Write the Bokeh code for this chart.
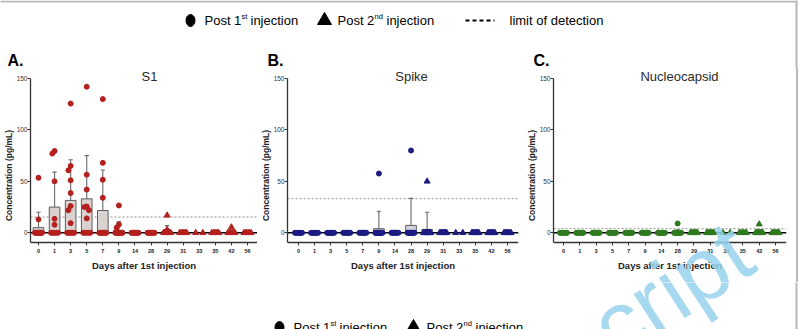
from bokeh.plotting import figure
from bokeh.models import Range1d, FixedTicker, Label, Spacer
from bokeh.layouts import column, row
from bokeh.embed import file_html
from bokeh.resources import INLINE
from bokeh.core.properties import value

# ---------------- data ----------------
DAYS = ["0", "1", "3", "5", "7", "9", "14", "28", "29", "31", "33", "35", "42", "56"]
FIRST_POST2_DAY = "29"   # from this day on: post 2nd injection (triangles)

S1_MEAN = [5, 25, 31.5, 33, 21.7, 2.3, 0, 0, 1.5, 0, 0, 0, 0.5, 0]
S1_SD_TOP = [20, 59, 71, 75, 61, 11, 0, 0, 7, 0, 0, 0, 2, 0]
S1_LOD = 15.3
S1_VALUES = [
    [53.5, 13, 0, 0, 0, 0, 0, 0, 0, 0, 0, 0],
    [79.5, 77, 50, 13.6, 7.8, 0, 0, 0, 0, 0],
    [125.6, 65, 60.7, 51, 38.6, 26, 22, 9.4, 0, 0, 0, 0, 0, 0],
    [142, 56.5, 42, 25.6, 25, 22, 14, 0, 0, 0, 0, 0],
    [130, 68, 51.6, 34, 0, 0, 0, 0, 0, 0, 0, 0],
    [26.6, 8, 5, 0, 0, 0, 0, 0, 0, 0, 0, 0],
    [0, 0, 0, 0, 0, 0, 0, 0],
    [0, 0, 0, 0, 0, 0, 0, 0],
    [17, 3, 0, 0, 0, 0, 0, 0, 0, 0],
    [0, 0, 0, 0, 0, 0],
    [0, 0],
    [0, 0, 0, 0, 0, 0],
    [5.5, 0, 0, 0, 0, 0, 0],
    [0, 0, 0, 0, 0, 0],
]

SPIKE_MEAN = [0, 0, 0, 0, 0, 4, 0, 7.2, 3.3, 0, 0, 0, 0, 0]
SPIKE_SD_TOP = [0, 0, 0, 0, 0, 21, 0, 33.5, 20, 0, 0, 0, 0, 0]
SPIKE_LOD = 33.2
SPIKE_VALUES = [
    [0, 0, 0, 0, 0, 0, 0, 0],
    [0, 0, 0, 0, 0, 0, 0, 0],
    [0, 0, 0, 0, 0, 0, 0, 0],
    [0, 0, 0, 0, 0, 0, 0, 0],
    [0, 0, 0, 0, 0, 0, 0, 0],
    [57.6, 0, 0, 0, 0, 0, 0, 0, 0, 0, 0, 0, 0, 0],
    [0, 0, 0, 0, 0, 0, 0, 0],
    [80, 0, 0, 0, 0, 0, 0, 0, 0, 0, 0],
    [50, 0, 0, 0, 0, 0, 0, 0, 0, 0, 0, 0, 0, 0, 0],
    [0, 0, 0, 0, 0, 0, 0, 0],
    [0, 0],
    [0, 0, 0, 0, 0, 0, 0, 0],
    [0, 0, 0, 0, 0, 0, 0, 0],
    [0, 0, 0, 0, 0, 0, 0, 0],
]

NC_MEAN = [0, 0, 0, 0, 0, 0, 0, 0.8, 0, 0, 0, 0, 0.7, 0]
NC_SD_TOP = [0, 0, 0, 0, 0, 0, 0, 3, 0, 0, 0, 0, 2.5, 0]
NC_LOD = 4
NC_VALUES = [
    [0, 0, 0, 0, 0, 0, 0, 0],
    [0, 0, 0, 0, 0, 0, 0, 0],
    [0, 0, 0, 0, 0, 0, 0, 0],
    [0, 0, 0, 0, 0, 0, 0, 0],
    [0, 0, 0, 0, 0, 0, 0, 0],
    [0, 0, 0, 0, 0, 0, 0, 0],
    [0, 0, 0, 0, 0, 0, 0, 0],
    [9.1, 0, 0, 0, 0, 0, 0, 0, 0, 0, 0],
    [0, 0, 0, 0, 0, 0, 0, 0],
    [0, 0, 0, 0, 0, 0, 0, 0],
    [0, 0],
    [0, 0, 0, 0, 0, 0],
    [8.4, 0, 0, 0, 0, 0, 0, 0, 0, 0, 0],
    [0, 0, 0, 0, 0, 0, 0, 0],
]

Y_TICKS = [0, 50, 100, 150]
FONT = "Liberation Sans"

# ---------------- geometry helpers ----------------
TOP_H = 68          # legend strip (with panel letters)
PANEL_H = 214
BOT_H = 47
ZERO_PY = 232.3     # page y of value 0
PX_PER_UNIT = 1.0287
AXIS_PY = 242       # page y of the x axis line
Y_AXIS_AT = -(AXIS_PY - ZERO_PY) / PX_PER_UNIT
Y0 = -(TOP_H + PANEL_H - ZERO_PY) / PX_PER_UNIT
Y1 = (ZERO_PY - TOP_H) / PX_PER_UNIT


def swarm(vals, step=0.14, marker_px=5.0):
    offs = [0.0] * len(vals)
    zeros = [i for i, v in enumerate(vals) if v == 0]
    n = len(zeros)
    if n > 1:
        for k, i in enumerate(zeros):
            offs[i] = -0.22 + 0.44 * k / (n - 1)
    placed = []
    nz = sorted([i for i, v in enumerate(vals) if v != 0], key=lambda i: -vals[i])
    for i in nz:
        chosen = 0.0
        for cand in [0.0, -step, step, -2 * step, 2 * step]:
            ok = True
            for j in placed:
                if abs(vals[i] - vals[j]) * PX_PER_UNIT < marker_px and abs(cand - offs[j]) < step * 0.99:
                    ok = False
                    break
            if ok:
                chosen = cand
                break
        offs[i] = chosen
        placed.append(i)
    return offs


def panel(title, mean, sd_top, values, lod, color, bar_fill,
          canvas_left, frame_left, frame_right, canvas_right, c0, c13, title_px):
    sp = (c13 - c0) / 13.0
    x0 = (frame_left - c0) / sp
    x1 = (frame_right - c0) / sp
    p = figure(width=canvas_right - canvas_left, height=PANEL_H,
               x_range=Range1d(x0, x1), y_range=Range1d(Y0, Y1),
               min_border_left=frame_left - canvas_left, min_border_right=canvas_right - frame_right,
               min_border_top=0, min_border_bottom=0,
               toolbar_location=None, output_backend="svg")
    p.outline_line_color = None
    p.grid.visible = False

    idx = list(range(len(DAYS)))
    p.line([x0, x1], [lod, lod], line_color="#8f8f8f", line_width=1, line_dash="2 2")
    bx = [i for i in idx if mean[i] > 0]
    p.vbar(x=bx, top=[mean[i] for i in bx], bottom=0, width=0.66,
           fill_color=bar_fill, line_color="#5c5c5c", line_width=1)
    ex = [i for i in idx if sd_top[i] > mean[i]]
    p.segment(x0=ex, y0=[mean[i] for i in ex], x1=ex, y1=[sd_top[i] for i in ex],
              line_color="#6a6a6a", line_width=1.1)
    p.segment(x0=[i - 0.13 for i in ex], y0=[sd_top[i] for i in ex],
              x1=[i + 0.13 for i in ex], y1=[sd_top[i] for i in ex],
              line_color="#6a6a6a", line_width=1.1)
    p.line([x0, x1], [0, 0], line_color="black", line_width=1.6)

    k2 = DAYS.index(FIRST_POST2_DAY)
    cx, cy, tx, ty = [], [], [], []
    for i, vals in enumerate(values):
        offs = swarm(vals)
        for v, o in zip(vals, offs):
            if i < k2:
                cx.append(i + o)
                cy.append(v)
            else:
                tx.append(i + o)
                ty.append(v)
    p.scatter(cx, cy, marker="circle", size=5, fill_color=color, line_color=color)
    p.scatter(tx, ty, marker="triangle", size=6, fill_color=color, line_color=color)

    p.text(x=[(title_px - c0) / sp], y=[152], text=[title], text_align="center",
           text_baseline="middle", text_font=value(FONT), text_font_size="13px",
           text_color="#2a2a2a")

    xa = p.xaxis[0]
    xa.fixed_location = Y_AXIS_AT
    xa.ticker = FixedTicker(ticks=idx)
    xa.major_label_overrides = {i: d for i, d in enumerate(DAYS)}
    xa.major_label_text_font = FONT
    xa.major_label_text_font_size = "5.5px"
    xa.major_label_text_font_style = "bold"
    xa.major_label_text_color = "#222"
    xa.major_label_standoff = 3
    xa.major_tick_out = 3
    xa.major_tick_in = 0
    xa.minor_tick_out = 0
    xa.axis_line_color = "#333"
    xa.axis_line_width = 1.3
    xa.major_tick_line_color = "#333"
    xa.axis_label = "Days after 1st injection"
    xa.axis_label_text_font = FONT
    xa.axis_label_text_font_size = "9.5px"
    xa.axis_label_text_font_style = "bold"
    xa.axis_label_text_color = "#222"
    xa.axis_label_standoff = 4

    ya = p.yaxis[0]
    ya.ticker = FixedTicker(ticks=Y_TICKS)
    ya.bounds = (Y_AXIS_AT, 150)
    ya.major_label_text_font = FONT
    ya.major_label_text_font_size = "6.5px"
    ya.major_label_text_color = "#333"
    ya.major_label_standoff = 0
    ya.major_tick_out = 3
    ya.major_tick_in = 0
    ya.minor_tick_out = 0
    ya.axis_line_color = "#333"
    ya.axis_line_width = 1.3
    ya.major_tick_line_color = "#333"
    ya.axis_label = "Concentration (pg/mL)"
    ya.axis_label_text_font = FONT
    ya.axis_label_text_font_size = "8.5px"
    ya.axis_label_text_font_style = "bold"
    ya.axis_label_text_color = "#222"
    ya.axis_label_standoff = 0
    return p, sp


pA, spA = panel("S1", S1_MEAN, S1_SD_TOP, S1_VALUES, S1_LOD, "#b3201e", "#dad1d1",
                0, 30, 257, 257, 38, 247, 149)
pB, spB = panel("Spike", SPIKE_MEAN, SPIKE_SD_TOP, SPIKE_VALUES, SPIKE_LOD, "#1b1b82", "#d4d4de",
                257, 287, 518, 523, 298, 507, 411)
pC, spC = panel("Nucleocapsid", NC_MEAN, NC_SD_TOP, NC_VALUES, NC_LOD, "#2f7a1f", "#d2dccd",
                523, 553, 786, 796, 563, 775, 679)

WM_COLOR = "#96d2ec"
WM_TEXT = "Manuscript"
WM_PX, WM_PY = 742, 243
WM_ANGLE = 33
WM_SIZE = "90px"
pC.add_layout(Label(x=(WM_PX - 563) / spC, y=(ZERO_PY - WM_PY) / PX_PER_UNIT, text=WM_TEXT,
                    angle=WM_ANGLE, angle_units="deg", text_align="right",
                    text_baseline="alphabetic", text_font=FONT, text_font_size=WM_SIZE,
                    text_color=WM_COLOR, text_alpha=0.85))

BORDER = "#b8b8b8"
LEG_FONT = value(FONT)

# ---------------- top legend strip ----------------
top = figure(width=806, height=TOP_H, x_range=Range1d(0, 806), y_range=Range1d(0, TOP_H),
             min_border=0, toolbar_location=None, output_backend="svg",
             x_axis_location=None, y_axis_location=None)
top.outline_line_color = None
top.grid.visible = False


def T(py):
    return TOP_H - py


top.line([0, 797], [T(1), T(1)], line_color=BORDER, line_width=2)
top.line([796, 796], [T(0), T(TOP_H)], line_color=BORDER, line_width=2)


def legend_row(fig, conv, dx, py):
    fig.ellipse(x=[190 + dx], y=[conv(py)], width=9, height=12, fill_color="black", line_color="black")
    fig.text(x=[204 + dx], y=[conv(py)], text=["Post 1"], text_baseline="middle", text_font=LEG_FONT,
             text_font_size="13px", text_color="black")
    fig.text(x=[241 + dx], y=[conv(py - 4)], text=["st"], text_baseline="middle", text_font=LEG_FONT,
             text_font_size="7.5px", text_color="black")
    fig.text(x=[250 + dx], y=[conv(py)], text=["injection"], text_baseline="middle", text_font=LEG_FONT,
             text_font_size="13px", text_color="black")
    fig.scatter(x=[324 + dx], y=[conv(py)], marker="triangle", size=14, fill_color="black",
                line_color="black")
    fig.text(x=[337 + dx], y=[conv(py)], text=["Post 2"], text_baseline="middle", text_font=LEG_FONT,
             text_font_size="13px", text_color="black")
    fig.text(x=[374 + dx], y=[conv(py - 4)], text=["nd"], text_baseline="middle", text_font=LEG_FONT,
             text_font_size="7.5px", text_color="black")
    fig.text(x=[386 + dx], y=[conv(py)], text=["injection"], text_baseline="middle", text_font=LEG_FONT,
             text_font_size="13px", text_color="black")


legend_row(top, T, 0, 20)
top.line([465, 494], [T(20), T(20)], line_color="black", line_width=2, line_dash="4 3")
top.text(x=[509], y=[T(20)], text=["limit of detection"], text_baseline="middle",
         text_font=LEG_FONT, text_font_size="13px", text_color="black")
for lx, letter in [(7, "A."), (267, "B."), (533, "C.")]:
    top.text(x=[lx], y=[T(60)], text=[letter], text_baseline="middle", text_font=LEG_FONT,
             text_font_size="16px", text_font_style="bold", text_color="black")

# ---------------- bottom strip (cut legend + watermark) ----------------
bot = figure(width=806, height=BOT_H, x_range=Range1d(0, 806), y_range=Range1d(0, BOT_H),
             min_border=0, toolbar_location=None, output_backend="svg",
             x_axis_location=None, y_axis_location=None)
bot.outline_line_color = None
bot.grid.visible = False


def B(py):
    return 329 - py


bot.line([796, 796], [B(282), B(329)], line_color=BORDER, line_width=2)
legend_row(bot, B, 89, 327)
bot.add_layout(Label(x=WM_PX, y=B(WM_PY), text=WM_TEXT, angle=WM_ANGLE, angle_units="deg",
                     text_align="right", text_baseline="alphabetic", text_font=FONT,
                     text_font_size=WM_SIZE, text_color=WM_COLOR, text_alpha=0.85))

edge = Spacer(width=2, height=PANEL_H, styles={"background-color": BORDER})

layout = column(top, row(pA, pB, pC, edge), bot)
open("out.html", "w").write(file_html(layout, INLINE))
